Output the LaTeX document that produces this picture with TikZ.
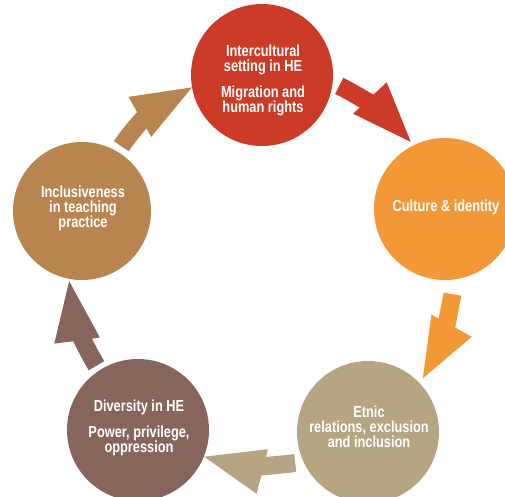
\documentclass[tikz,border=0pt]{standalone}
\usepackage{fontspec}
\newfontfamily\cf{Liberation Sans}[FakeStretch=0.8]
\usetikzlibrary{arrows.meta}
\definecolor{cred}{HTML}{CC3A28}
\definecolor{corange}{HTML}{F29836}
\definecolor{ctan}{HTML}{B6A482}
\definecolor{cbrown}{HTML}{86665A}
\definecolor{cincl}{HTML}{B88450}
\begin{document}
\begin{tikzpicture}[x=1pt,y=1pt,
  circ/.style={circle, minimum size=142pt, inner sep=0pt, outer sep=0pt, draw=none},
  lbl/.style={text=white, font=\cf\bfseries\fontsize{16}{15}\selectfont, align=center, inner sep=0pt},
  barrow/.style={line width=18pt, draw=#1, -{Triangle[width=46pt,length=60pt,line width=0pt]}}]
\useasboundingbox (0,0) rectangle (505,-496);
\clip (0,0) rectangle (505,-496);
% circles
\node[circ, fill=cred] (R) at (262,-75) {};
\node[circ, fill=corange] (O) at (445,-209) {};
\node[circ, fill=ctan] (E) at (368,-432) {};
\node[circ, fill=cbrown] (D) at (138,-430) {};
\node[circ, fill=cincl, minimum size=138pt] (I) at (82,-211) {};
% labels
\node[lbl] (Rt) at (263,-80) {Intercultural\\setting in HE\\[11pt]Migration and\\human rights};
\node[lbl] (Ot) at (446,-207.5) {Culture \& identity};
\node[lbl] (Et) at (369,-426.5) {Etnic\\relations, exclusion\\and inclusion};
\node[lbl] (Dt) at (139,-428) {Diversity in HE\\[11pt]Power, privilege,\\oppression};
\node[lbl] (It) at (83,-208) {Inclusiveness\\in teaching\\practice};
% arrows
\draw[barrow=cred, shorten <=7.5pt, shorten >=4.5pt] (R.-6.6) to[out=-27,in=133] (O.116);
\draw[barrow=corange, shorten <=15pt, shorten >=6pt] (O.-82.6) to[out=-99.5,in=61.3] (E.43.4);
\draw[barrow=ctan, shorten <=8.5pt, shorten >=0.3pt] (E.205.3) to[out=187,in=-14.3] (D.-22.2);
\draw[barrow=cbrown, shorten <=5.5pt, shorten >=2.4pt] (D.123.3) to[out=121,in=-82.4] (I.-101.3);
\draw[barrow=cincl, shorten <=6.8pt, shorten >=0pt] (I.59) to[out=56.3,in=209.5] (R.190.5);
\end{tikzpicture}
\end{document}
